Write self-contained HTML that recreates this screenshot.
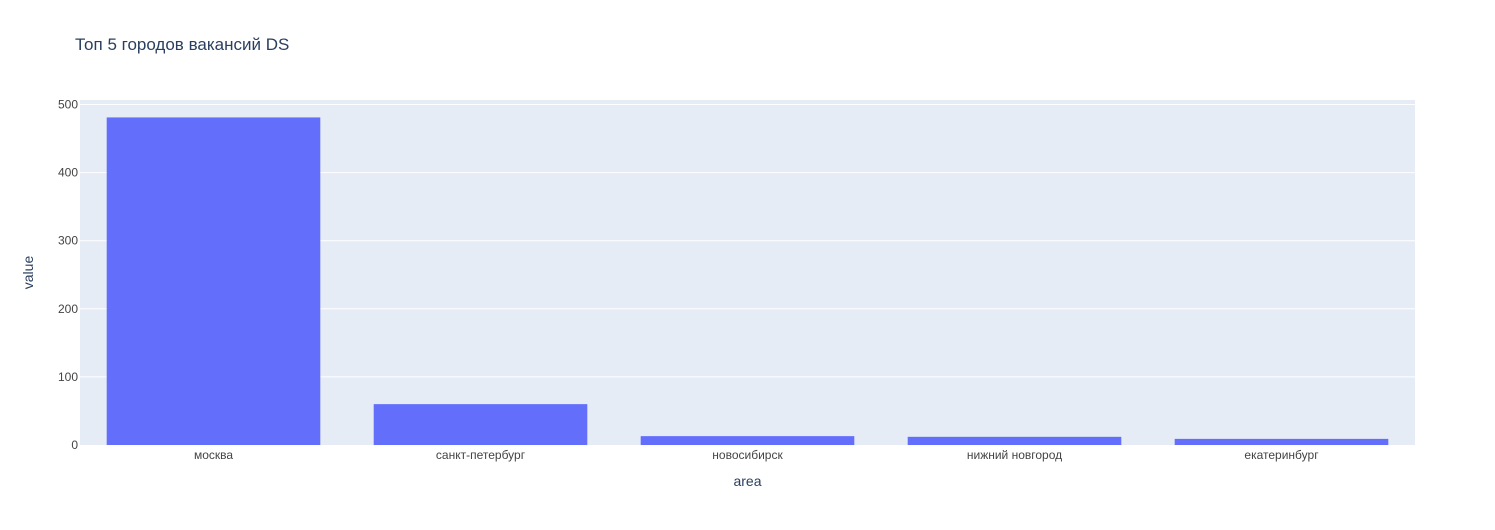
<!DOCTYPE html>
<html><head><meta charset="utf-8">
<style>
body{margin:0;background:#fff;font-family:"Liberation Sans",Arial,sans-serif;}
svg text{font-family:"Liberation Sans",Arial,sans-serif;fill:#444;}
</style></head>
<body>
<svg id="chart" width="1495" height="525">
<rect x="0" y="0" width="1495" height="525" fill="#fff"/>
<rect x="80" y="100" width="1335" height="345" fill="#e5ecf6"/>
<g id="grid"></g>
<g id="bars"></g>
<g id="xticks"></g>
<g id="yticks"></g>
<text x="75" y="50" font-size="17" style="fill:#2a3f5f">Топ 5 городов вакансий DS</text>
<text x="747.5" y="486" font-size="14" text-anchor="middle" style="fill:#2a3f5f">area</text>
<text x="33" y="272.5" font-size="14" text-anchor="middle" transform="rotate(-90 33 272.5)" style="fill:#2a3f5f">value</text>
</svg>
<script>
const categories = ["москва","санкт-петербург","новосибирск","нижний новгород","екатеринбург"];
const values = [481, 60, 13, 12, 9];
const yTicks = [0, 100, 200, 300, 400, 500];
const NS="http://www.w3.org/2000/svg";
const L=80,T=100,W=1335,H=345,YMAX=506.6;
const y=v=>T+H-v/YMAX*H;
const band=W/categories.length;
const x=i=>L+band*i;
function mk(tag,attrs,parent){const e=document.createElementNS(NS,tag);for(const k in attrs)e.setAttribute(k,attrs[k]);document.getElementById(parent).appendChild(e);return e;}
yTicks.forEach(t=>{
  if(t>0){const g=mk('line',{x1:L,x2:L+W,y1:y(t),y2:y(t),stroke:'#fff','stroke-width':1},'grid');
  
  }
  const tx=mk('text',{x:L-2,y:y(t)+4,'font-size':12,'text-anchor':'end'},'yticks');
  tx.textContent=t;
  
  
});
categories.forEach((c,i)=>{
  const b=mk('rect',{x:x(i)+band*0.1,width:band*0.8,y:y(values[i]),height:y(0)-y(values[i]),fill:'#636efa'},'bars');
  
  
  const tx=mk('text',{x:x(i)+band/2,y:459,'font-size':12,'text-anchor':'middle'},'xticks');
  tx.textContent=c;
  
  
});
</script>
</body></html>
